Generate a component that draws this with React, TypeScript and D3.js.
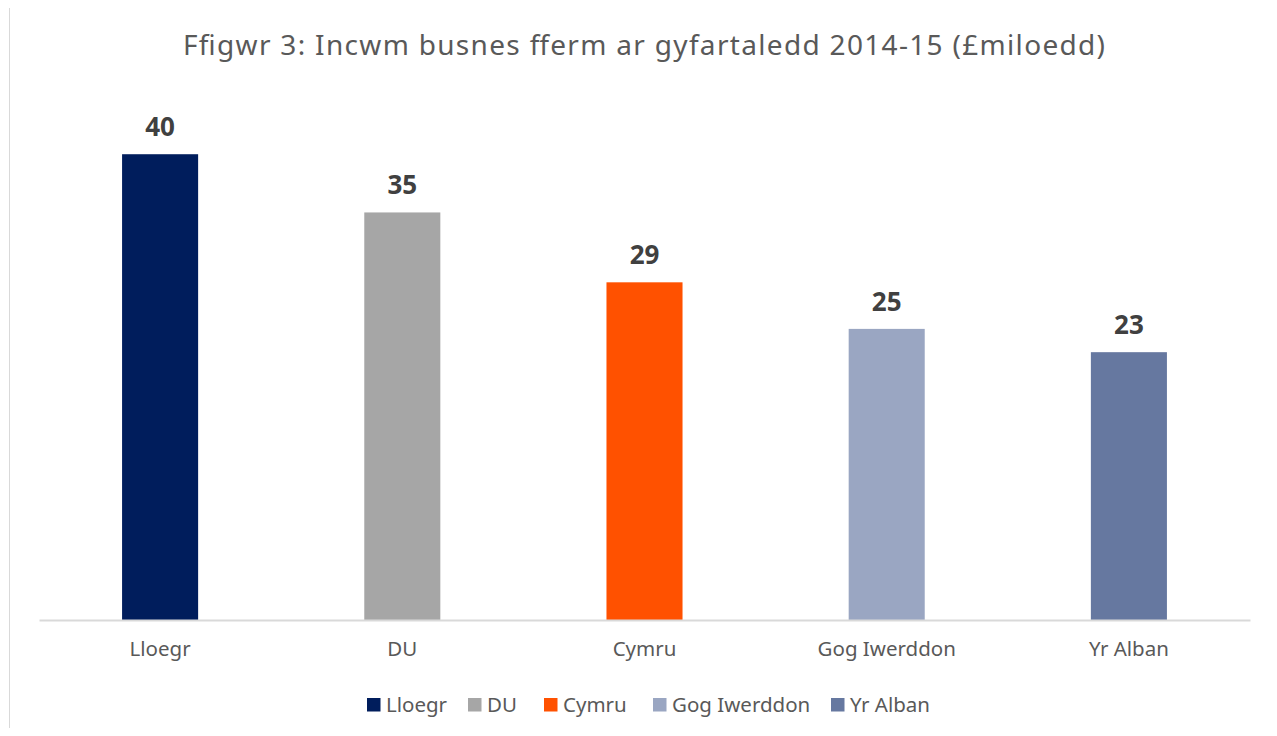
import React, { useEffect, useRef } from "react"
import * as d3 from "d3"

const categories = ["Lloegr", "DU", "Cymru", "Gog Iwerddon", "Yr Alban"]
const values = [40, 35, 29, 25, 23]
const colors = ["#001d5c", "#a6a6a6", "#ff5100", "#9aa6c2", "#6678a0"]
const title = "Ffigwr 3: Incwm busnes fferm ar gyfartaledd 2014-15 (£miloedd)"

const W = 1277
const H = 736
const font = "'Noto Sans', 'Open Sans', sans-serif"

export default function App() {
  const ref = useRef<SVGSVGElement>(null)

  useEffect(() => {
    const svg = d3.select(ref.current)
    svg.selectAll("*").remove()

    svg.append("rect")
      .attr("x", 9.5).attr("y", 7.5)
      .attr("width", W).attr("height", H)
      .attr("fill", "#fff")
      .attr("stroke", "#d9d9d9")

    const x = d3.scaleBand<string>()
      .domain(categories)
      .range([39, 1250])
      .paddingInner(0.686)
      .paddingOuter(0.343)

    const y = d3.scaleLinear().domain([0, 45]).range([620, 96])

    svg.append("text")
      .attr("x", 644).attr("y", 55)
      .attr("text-anchor", "middle")
      .attr("font-family", font)
      .attr("font-size", 28)
      .attr("textLength", 922)
      .attr("lengthAdjust", "spacing")
      .attr("fill", "#595959")
      .text(title)

    const data = categories.map((c, i) => ({ c, v: values[i], col: colors[i] }))

    svg.append("g").selectAll("rect")
      .data(data)
      .join("rect")
      .attr("x", d => x(d.c)!)
      .attr("width", x.bandwidth())
      .attr("y", d => y(d.v))
      .attr("height", d => y(0) - y(d.v))
      .attr("fill", d => d.col)

    svg.append("g").selectAll("text")
      .data(data)
      .join("text")
      .attr("x", d => x(d.c)! + x.bandwidth() / 2)
      .attr("y", d => y(d.v) - 18)
      .attr("text-anchor", "middle")
      .attr("font-family", font)
      .attr("font-size", 26)
      .attr("font-weight", "bold")
      .attr("fill", "#404040")
      .text(d => d.v)

    const xAxis = svg.append("g")
      .attr("transform", "translate(0,620)")
      .call(d3.axisBottom(x).tickSize(0).tickPadding(21))
    xAxis.select(".domain").attr("stroke", "#d9d9d9").attr("stroke-width", 2)
    xAxis.selectAll(".tick text")
      .attr("font-family", font)
      .attr("font-size", 20.5)
      .attr("fill", "#595959")

    // legend
    const legendX = [367, 468, 544, 653, 831]
    const lg = svg.append("g").selectAll("g")
      .data(data)
      .join("g")
      .attr("transform", (d, i) => `translate(${legendX[i]},0)`)
    lg.append("rect")
      .attr("x", 0).attr("y", 698)
      .attr("width", 13.5).attr("height", 13.5)
      .attr("fill", d => d.col)
    lg.append("text")
      .attr("x", 19).attr("y", 712)
      .attr("font-family", font)
      .attr("font-size", 20.5)
      .attr("fill", "#595959")
      .text(d => d.c)
  }, [])

  return <svg ref={ref} width={W} height={H} style={{ display: "block", margin: -8 }} />
}
